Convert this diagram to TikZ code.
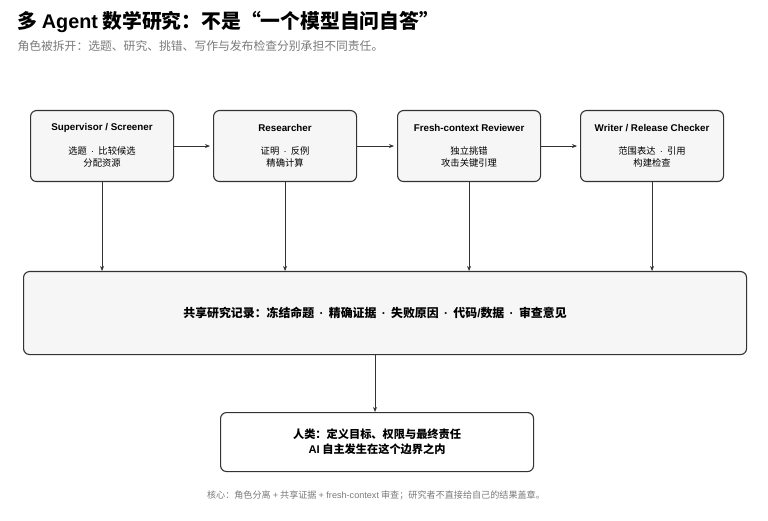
\documentclass[tikz,border=0pt]{standalone}
\usepackage{fontspec}
\setmainfont{Noto Sans CJK SC}
\setsansfont{Noto Sans CJK SC}
\newfontfamily\lat{Liberation Sans}
\usetikzlibrary{arrows.meta}
\definecolor{lineC}{HTML}{333333}
\definecolor{boxF}{HTML}{F6F6F6}
\definecolor{subC}{HTML}{7A7A7A}
\newcommand{\mdot}{{\lat\hspace{0.45em}·\hspace{0.45em}}}
\begin{document}
\begin{tikzpicture}[x=1pt,y=-1pt,
  role/.style={draw=lineC,line width=1.1pt,rounded corners=6pt,fill=boxF,minimum width=143pt,minimum height=71pt,anchor=north west,inner sep=0pt},
  conn/.style={draw=lineC,line width=1pt,-{Stealth[length=5pt,width=4pt]}},
  ttl/.style={font=\fontsize{9.8}{11}\selectfont\lat\bfseries},
  body/.style={font=\fontsize{9.3}{11.5}\selectfont,align=center}]
\useasboundingbox (0,0) rectangle (768,521);
\node[anchor=west,font=\fontsize{19.8}{22}\selectfont\bfseries] (title) at (14,22) {多 {\lat Agent} 数学研究：不是“一个模型自问自答”};
\node[anchor=west,font=\fontsize{11.8}{14}\selectfont,text=subC] (sub) at (14,46) {角色被拆开：选题、研究、挑错、写作与发布检查分别承担不同责任。};

\node[role] (b1) at (30,110) {};
\node[role] (b2) at (213,110) {};
\node[role] (b3) at (397,110) {};
\node[role] (b4) at (580,110) {};

\node[ttl] (b1t) at ([yshift=-18pt]b1.north) {Supervisor / Screener};
\node[body] (b1s) at ([yshift=-47pt]b1.north) {选题\mdot 比较候选\\分配资源};
\node[ttl] (b2t) at ([yshift=-18pt]b2.north) {Researcher};
\node[body] (b2s) at ([yshift=-47pt]b2.north) {证明\mdot 反例\\精确计算};
\node[ttl] (b3t) at ([yshift=-18pt]b3.north) {Fresh-context Reviewer};
\node[body] (b3s) at ([yshift=-47pt]b3.north) {独立挑错\\攻击关键引理};
\node[ttl] (b4t) at ([yshift=-18pt]b4.north) {Writer / Release Checker};
\node[body] (b4s) at ([yshift=-47pt]b4.north) {范围表达\mdot 引用\\构建检查};

\node[draw=lineC,line width=1.1pt,rounded corners=6pt,fill=boxF,minimum width=723pt,minimum height=83pt,anchor=north west,inner sep=0pt] (rec) at (23,271) {};
\node[font=\fontsize{11.9}{13}\selectfont\bfseries] (rect) at (375,312.5) {共享研究记录：冻结命题\mdot 精确证据\mdot 失败原因\mdot 代码{\lat /}数据\mdot 审查意见};

\node[draw=lineC,line width=1.1pt,rounded corners=6pt,fill=white,minimum width=313pt,minimum height=59pt,anchor=north west,inner sep=0pt,align=center,font=\fontsize{11.2}{15}\selectfont\bfseries] (hum) at (220,412) {人类：定义目标、权限与最终责任\\{\lat AI} 自主发生在这个边界之内};

\node[font=\fontsize{9.1}{10}\selectfont,text=subC] (foot) at (376,495) {核心：角色分离 {\lat +} 共享证据 {\lat + fresh-context} 审查；研究者不直接给自己的结果盖章。};

\coordinate (recout) at (375,354.5);
\draw[conn] (b1.east) -- ([xshift=-3pt]b2.west);
\draw[conn] (b2.east) -- ([xshift=-3pt]b3.west);
\draw[conn] (b3.east) -- ([xshift=-3pt]b4.west);
\foreach \b in {b1,b2,b3,b4}{
  \draw[conn] (\b.south) -- (\b.south |- rec.north);
}
\draw[conn] (recout) -- (recout |- hum.north);
\end{tikzpicture}
\end{document}
